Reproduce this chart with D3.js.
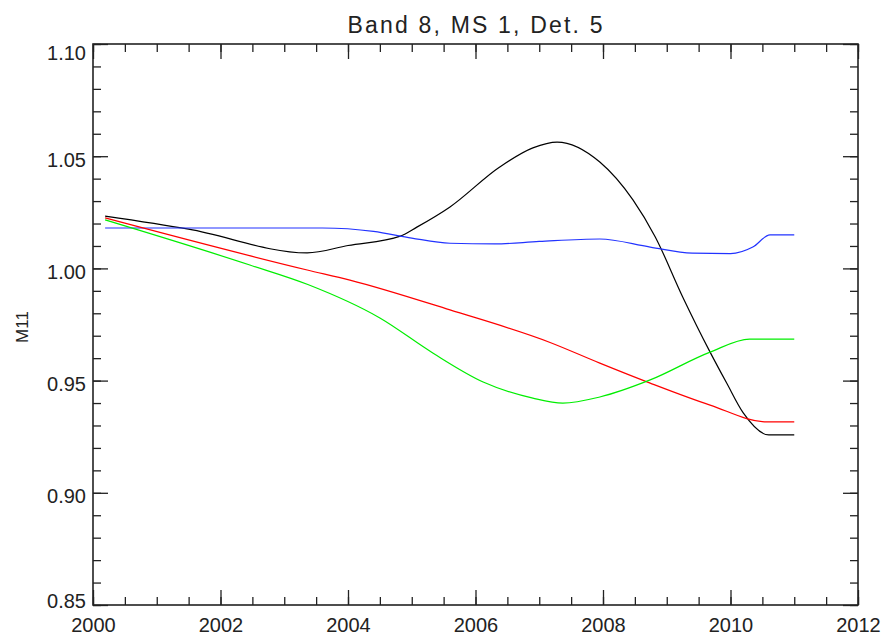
<!DOCTYPE html>
<html>
<head>
<meta charset="utf-8">
<script src="https://cdn.jsdelivr.net/npm/d3@7"></script>
<style>
  html, body { margin: 0; padding: 0; background: #fff; }
  svg { display: block; }
  text { font-family: "Liberation Sans", Arial, sans-serif; fill: #222; }
</style>
</head>
<body>
<svg id="chart" width="884" height="636"></svg>
<script>
// ---- data ----
const title = "Band 8, MS 1, Det. 5";
const yLabel = "M11";
const xTicks = [2000, 2002, 2004, 2006, 2008, 2010, 2012];
const yTicks = [0.85, 0.90, 0.95, 1.00, 1.05, 1.10];

const blackYears = [2000.19, 2001.5, 2003.36, 2004.0, 2004.82, 2005.08, 2005.6, 2006.38, 2006.9, 2007.28, 2007.95, 2008.47, 2008.82, 2009.25, 2009.68, 2009.94, 2010.2, 2010.6, 2011.0];
const blackVals  = [1.0233, 1.0175, 1.0069, 1.0102, 1.0144, 1.0184, 1.0274, 1.0452, 1.0537, 1.0563, 1.0474, 1.0305, 1.0140, 0.9873, 0.9627, 0.9489, 0.9356, 0.9258, 0.9258];

const blueYears = [2000.19, 2003.6, 2004.4, 2005.0, 2005.6, 2006.3, 2007.0, 2007.95, 2008.74, 2009.4, 2010.0, 2010.35, 2010.62, 2011.0];
const blueVals  = [1.0180, 1.0180, 1.0165, 1.0135, 1.0112, 1.0109, 1.0120, 1.0131, 1.0095, 1.0068, 1.0066, 1.0095, 1.0149, 1.0149];

const redYears = [2000.19, 2003.36, 2004.03, 2005.6, 2007.17, 2007.95, 2008.74, 2009.68, 2010.57, 2011.0];
const redVals  = [1.0225, 0.9993, 0.9948, 0.9815, 0.9670, 0.9578, 0.9489, 0.9391, 0.9316, 0.9316];

const greenYears = [2000.19, 2002.46, 2003.37, 2004.5, 2005.33, 2006.12, 2006.9, 2007.37, 2007.95, 2008.74, 2009.68, 2010.3, 2011.0];
const greenVals  = [1.0216, 1.0015, 0.9928, 0.9779, 0.9623, 0.9494, 0.9422, 0.9400, 0.9427, 0.9503, 0.9627, 0.9685, 0.9685];

const series = [
  { years: blackYears, vals: blackVals, color: "#000000" },
  { years: blueYears,  vals: blueVals,  color: "#2233ff" },
  { years: redYears,   vals: redVals,   color: "#ff0000" },
  { years: greenYears, vals: greenVals, color: "#00ee00" }
];

// ---- layout ----
const svg = d3.select("#chart");
const L = 93, T = 44, R = 858, B = 605;

const x = d3.scaleLinear().domain([2000, 2012]).range([L, R]);
const y = d3.scaleLinear().domain([0.85, 1.10]).range([B, T]);

const xMinor = d3.range(2000, 2012.01, 0.5);
const yMinor = d3.range(0, 26).map(i => 0.85 + i * 0.01);

const axisStroke = "#222";
const fontFam = "'Liberation Sans', Arial, sans-serif";

function styleAxis(g) {
  g.select(".domain").remove();
  g.selectAll(".tick line").attr("stroke", axisStroke).attr("stroke-width", 1.3);
}

// minor ticks (all sides)
svg.append("g").attr("transform", `translate(0,${B})`)
  .call(d3.axisBottom(x).tickValues(xMinor).tickSize(-8).tickFormat("")).call(styleAxis);
svg.append("g").attr("transform", `translate(0,${T})`)
  .call(d3.axisTop(x).tickValues(xMinor).tickSize(-8).tickFormat("")).call(styleAxis);
svg.append("g").attr("transform", `translate(${L},0)`)
  .call(d3.axisLeft(y).tickValues(yMinor).tickSize(-8).tickFormat("")).call(styleAxis);
svg.append("g").attr("transform", `translate(${R},0)`)
  .call(d3.axisRight(y).tickValues(yMinor).tickSize(-8).tickFormat("")).call(styleAxis);

// major ticks
const xb = svg.append("g").attr("transform", `translate(0,${B})`)
  .call(d3.axisBottom(x).tickValues(xTicks).tickSize(-15).tickPadding(0).tickFormat(d3.format("d")));
styleAxis(xb);
xb.selectAll(".tick text").attr("y", 27).attr("dy", 0)
  .style("font-size", "20px").style("font-family", fontFam).attr("fill", "#222");

svg.append("g").attr("transform", `translate(0,${T})`)
  .call(d3.axisTop(x).tickValues(xTicks).tickSize(-15).tickFormat("")).call(styleAxis);

const yl = svg.append("g").attr("transform", `translate(${L},0)`)
  .call(d3.axisLeft(y).tickValues(yTicks).tickSize(-15).tickFormat(d3.format(".2f")));
styleAxis(yl);
yl.selectAll(".tick text")
  .attr("x", -7)
  .attr("dy", d => d >= 1.099 ? "0.75em" : (d <= 0.851 ? "0.1em" : "0.5em"))
  .style("font-size", "20px").style("font-family", fontFam).attr("fill", "#222");

svg.append("g").attr("transform", `translate(${R},0)`)
  .call(d3.axisRight(y).tickValues(yTicks).tickSize(-15).tickFormat("")).call(styleAxis);

// frame
svg.append("rect").attr("x", L).attr("y", T).attr("width", R - L).attr("height", B - T)
  .attr("fill", "none").attr("stroke", axisStroke).attr("stroke-width", 1.6);

// lines
const line = d3.line().x(d => x(d[0])).y(d => y(d[1])).curve(d3.curveMonotoneX);
series.forEach(s => {
  const pts = s.years.map((yr, i) => [yr, s.vals[i]]);
  svg.append("path").datum(pts)
    .attr("d", line)
    .attr("fill", "none")
    .attr("stroke", s.color)
    .attr("stroke-width", 1.2);
});

// title
svg.append("text")
  .attr("x", 475).attr("y", 33)
  .attr("text-anchor", "middle")
  .attr("textLength", 255).attr("lengthAdjust", "spacing")
  .style("font-size", "23px")
  .text(title);

// y label
svg.append("text")
  .attr("transform", "translate(28,327) rotate(-90)")
  .attr("text-anchor", "middle")
  .style("font-size", "17px")
  .text(yLabel);
</script>
</body>
</html>
